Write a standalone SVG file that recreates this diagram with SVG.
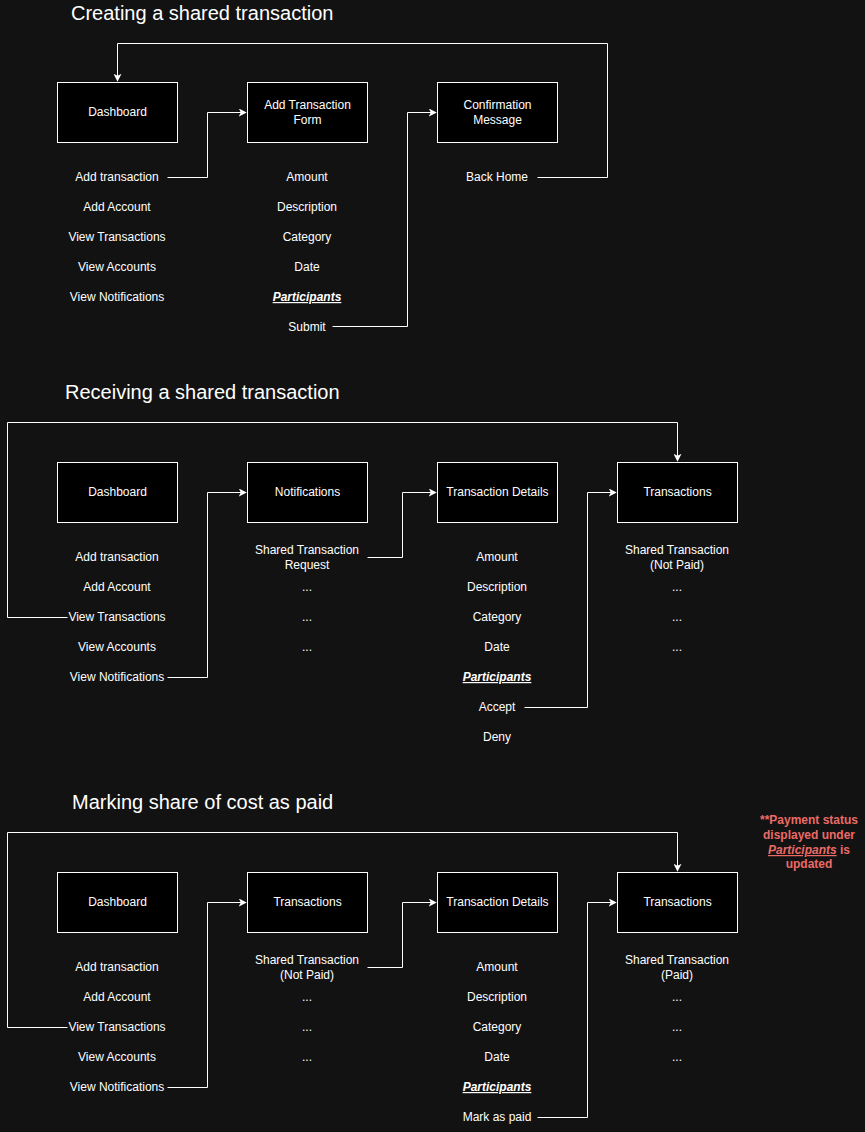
<svg xmlns="http://www.w3.org/2000/svg" width="865" height="1132" viewBox="0 0 865 1132">
<style>
.bg{fill:#121212}
.box{fill:#000;stroke:#fff;stroke-width:1}
.t{font-family:"Liberation Sans",Arial,sans-serif;font-size:12px;fill:#fff;text-anchor:middle}
.p{font-weight:bold;font-style:italic;text-decoration:underline}
.title{font-family:"Liberation Sans",Arial,sans-serif;font-size:20px;fill:#fff}
.note{font-family:"Liberation Sans",Arial,sans-serif;font-size:12px;fill:#EA6B66;font-weight:bold;text-anchor:middle}
.c{fill:none;stroke:#fff;stroke-width:1}
</style>
<defs>
<marker id="ah" viewBox="0 0 10 10" refX="9" refY="5" markerWidth="8" markerHeight="8" markerUnits="userSpaceOnUse" orient="auto">
<path d="M0,0 L10,5 L0,10 L2.5,5 Z" fill="#fff"/>
</marker>
</defs>
<rect class="bg" x="0" y="0" width="865" height="1132"/>

<text class="title" x="71" y="20">Creating a shared transaction</text>
<text class="title" x="65" y="399">Receiving a shared transaction</text>
<text class="title" x="72" y="809">Marking share of cost as paid</text>

<g id="s1-dashboard">
<rect class="box" x="57.5" y="82.5" width="120" height="60"/>
<text class="t" x="117.5" y="116">Dashboard</text>
<text class="t" x="117" y="181">Add transaction</text>
<text class="t" x="117" y="211">Add Account</text>
<text class="t" x="117" y="241">View Transactions</text>
<text class="t" x="117" y="271">View Accounts</text>
<text class="t" x="117" y="301">View Notifications</text>
</g>
<g id="s1-form">
<rect class="box" x="247.5" y="82.5" width="120" height="60"/>
<text class="t" x="307.5" y="109">Add Transaction</text>
<text class="t" x="307.5" y="124">Form</text>
<text class="t" x="307" y="181">Amount</text>
<text class="t" x="307" y="211">Description</text>
<text class="t" x="307" y="241">Category</text>
<text class="t" x="307" y="271">Date</text>
<text class="t p" x="307" y="301">Participants</text>
<text class="t" x="307" y="331">Submit</text>
</g>
<g id="s1-confirm">
<rect class="box" x="437.5" y="82.5" width="120" height="60"/>
<text class="t" x="497.5" y="109">Confirmation</text>
<text class="t" x="497.5" y="124">Message</text>
<text class="t" x="497" y="181">Back Home</text>
</g>

<g id="s2-dashboard">
<rect class="box" x="57.5" y="462.5" width="120" height="60"/>
<text class="t" x="117.5" y="496">Dashboard</text>
<text class="t" x="117" y="561">Add transaction</text>
<text class="t" x="117" y="591">Add Account</text>
<text class="t" x="117" y="621">View Transactions</text>
<text class="t" x="117" y="651">View Accounts</text>
<text class="t" x="117" y="681">View Notifications</text>
</g>
<g id="s2-notifications">
<rect class="box" x="247.5" y="462.5" width="120" height="60"/>
<text class="t" x="307.5" y="496">Notifications</text>
<text class="t" x="307" y="554">Shared Transaction</text>
<text class="t" x="307" y="569">Request</text>
<text class="t" x="307" y="591">...</text>
<text class="t" x="307" y="621">...</text>
<text class="t" x="307" y="651">...</text>
</g>
<g id="s2-details">
<rect class="box" x="437.5" y="462.5" width="120" height="60"/>
<text class="t" x="497.5" y="496">Transaction Details</text>
<text class="t" x="497" y="561">Amount</text>
<text class="t" x="497" y="591">Description</text>
<text class="t" x="497" y="621">Category</text>
<text class="t" x="497" y="651">Date</text>
<text class="t p" x="497" y="681">Participants</text>
<text class="t" x="497" y="711">Accept</text>
<text class="t" x="497" y="741">Deny</text>
</g>
<g id="s2-transactions">
<rect class="box" x="617.5" y="462.5" width="120" height="60"/>
<text class="t" x="677.5" y="496">Transactions</text>
<text class="t" x="677" y="554">Shared Transaction</text>
<text class="t" x="677" y="569">(Not Paid)</text>
<text class="t" x="677" y="591">...</text>
<text class="t" x="677" y="621">...</text>
<text class="t" x="677" y="651">...</text>
</g>

<g id="s3-dashboard">
<rect class="box" x="57.5" y="872.5" width="120" height="60"/>
<text class="t" x="117.5" y="906">Dashboard</text>
<text class="t" x="117" y="971">Add transaction</text>
<text class="t" x="117" y="1001">Add Account</text>
<text class="t" x="117" y="1031">View Transactions</text>
<text class="t" x="117" y="1061">View Accounts</text>
<text class="t" x="117" y="1091">View Notifications</text>
</g>
<g id="s3-transactions">
<rect class="box" x="247.5" y="872.5" width="120" height="60"/>
<text class="t" x="307.5" y="906">Transactions</text>
<text class="t" x="307" y="964">Shared Transaction</text>
<text class="t" x="307" y="979">(Not Paid)</text>
<text class="t" x="307" y="1001">...</text>
<text class="t" x="307" y="1031">...</text>
<text class="t" x="307" y="1061">...</text>
</g>
<g id="s3-details">
<rect class="box" x="437.5" y="872.5" width="120" height="60"/>
<text class="t" x="497.5" y="906">Transaction Details</text>
<text class="t" x="497" y="971">Amount</text>
<text class="t" x="497" y="1001">Description</text>
<text class="t" x="497" y="1031">Category</text>
<text class="t" x="497" y="1061">Date</text>
<text class="t p" x="497" y="1091">Participants</text>
<text class="t" x="497" y="1121">Mark as paid</text>
</g>
<g id="s3-transactions-paid">
<rect class="box" x="617.5" y="872.5" width="120" height="60"/>
<text class="t" x="677.5" y="906">Transactions</text>
<text class="t" x="677" y="964">Shared Transaction</text>
<text class="t" x="677" y="979">(Paid)</text>
<text class="t" x="677" y="1001">...</text>
<text class="t" x="677" y="1031">...</text>
<text class="t" x="677" y="1061">...</text>
</g>

<g id="note">
<text class="note" x="809" y="824">**Payment status</text>
<text class="note" x="809" y="839">displayed under</text>
<text class="note" x="809" y="854"><tspan font-style="italic" text-decoration="underline">Participants</tspan> is</text>
<text class="note" x="809" y="868">updated</text>
</g>

<g id="connectors">
<path class="c" d="M167.5,177.5 H207.5 V112.5 H246" marker-end="url(#ah)"/>
<path class="c" d="M332.5,326.5 H407.5 V112.5 H436" marker-end="url(#ah)"/>
<path class="c" d="M537.5,177.5 H607.5 V43.5 H117.5 V81" marker-end="url(#ah)"/>

<path class="c" d="M67.5,617.5 H7.5 V422.5 H677.5 V461" marker-end="url(#ah)"/>
<path class="c" d="M167.5,677.5 H207.5 V492.5 H246" marker-end="url(#ah)"/>
<path class="c" d="M367.5,557.5 H402.5 V492.5 H436" marker-end="url(#ah)"/>
<path class="c" d="M524.5,707.5 H587.5 V492.5 H616" marker-end="url(#ah)"/>

<path class="c" d="M67.5,1027.5 H7.5 V832.5 H677.5 V871" marker-end="url(#ah)"/>
<path class="c" d="M167.5,1087.5 H207.5 V902.5 H246" marker-end="url(#ah)"/>
<path class="c" d="M367.5,967.5 H402.5 V902.5 H436" marker-end="url(#ah)"/>
<path class="c" d="M537.5,1117.5 H587.5 V902.5 H616" marker-end="url(#ah)"/>
</g>
</svg>
